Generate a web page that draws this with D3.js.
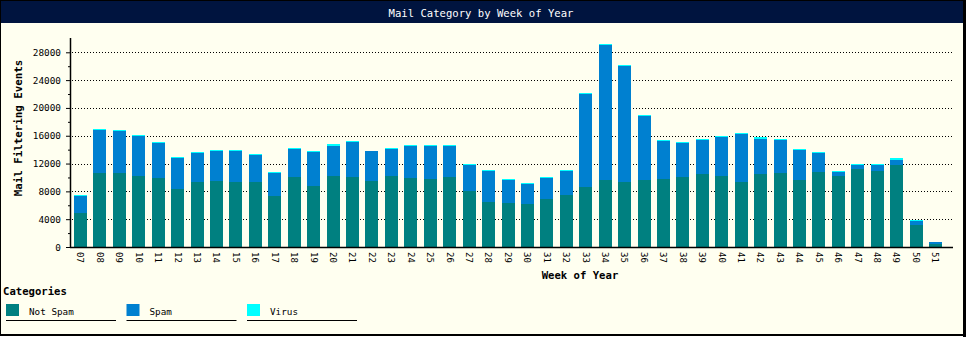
<!DOCTYPE html>
<html>
<head>
<meta charset="utf-8">
<script src="https://cdn.jsdelivr.net/npm/d3@7"></script>
<style>
  body { margin: 0; background: #ffffff; }
  svg text { font-family: 'DejaVu Sans Mono', monospace; }
</style>
</head>
<body>
<script>
// week numbers on the x axis
let weeks = ['07', '08', '09', '10', '11', '12', '13', '14', '15', '16', '17', '18', '19', '20', '21',
             '22', '23', '24', '25', '26', '27', '28', '29', '30', '31', '32', '33', '34', '35', '36',
             '37', '38', '39', '40', '41', '42', '43', '44', '45', '46', '47', '48', '49', '50', '51']

// mail counts per week, one list per category
let notSpam = [4900, 10700, 10700, 10200, 9900, 8400, 9350, 9550, 9350, 9350, 7330, 10100, 8770, 10200, 10100,
               9540, 10200, 9920, 9820, 10100, 8100, 6470, 6370, 6180, 6860, 7520, 8580, 9630, 9350, 9630,
               9820, 10110, 10500, 10200, 9350, 10500, 10690, 9630, 10790, 10250, 11220, 10930, 11790, 3160, 475]
let spam    = [2390, 6080, 5980, 5760, 5050, 4400, 4170, 4250, 4450, 3930, 3360, 3990, 4890, 4320, 5000,
               4220, 3890, 4600, 4700, 4420, 3740, 4460, 3260, 2880, 3060, 3410, 13420, 19420, 16680, 9210,
               5420, 4850, 4890, 5620, 6900, 5030, 4700, 4320, 2730, 540, 570, 860, 720, 580, 285]
let virus   = [190, 190, 150, 190, 150, 140, 140, 150, 150, 140, 140, 150, 140, 290, 140,
               40, 150, 190, 190, 190, 140, 140, 150, 140, 150, 140, 150, 140, 140, 140,
               150, 150, 140, 140, 140, 290, 140, 140, 140, 140, 190, 190, 330, 190, 20]

let categories = ['Not Spam', 'Spam', 'Virus']
let colors = ['#008080', '#0080d0', '#00ffff']
let yMajor = [0, 4000, 8000, 12000, 16000, 20000, 24000, 28000]
let yMinor = [2000, 6000, 10000, 14000, 18000, 22000, 26000]

let W = 976, H = 344
let plot = { left: 70, right: 953, top: 38, bottom: 247 }

let rows = weeks.map((w, i) => ({ week: w, 'Not Spam': notSpam[i], 'Spam': spam[i], 'Virus': virus[i] }))
let stacked = d3.stack().keys(categories)(rows)

let x = d3.scaleBand()
          .domain(weeks)
          .range([plot.left, 946])
          .paddingInner(0.331)
          .paddingOuter(0.206)

let y = d3.scaleLinear()
          .domain([0, 30000])
          .range([plot.bottom, plot.bottom - 208.6])

let color = d3.scaleOrdinal().domain(categories).range(colors)

let svg = d3.select('body')
    .append('svg')
    .attr('width', W)
    .attr('height', H)

//frame and title bar
svg.append('rect')
    .attr('x', 0.5).attr('y', 0.5)
    .attr('width', 963).attr('height', 334)
    .attr('fill', '#fffff0')
    .attr('stroke', '#000')
svg.append('rect')
    .attr('x', 963).attr('y', 0)
    .attr('width', 3).attr('height', 337)
    .attr('fill', '#000')
svg.append('rect')
    .attr('x', 0).attr('y', 334)
    .attr('width', 966).attr('height', 2)
    .attr('fill', '#000')
svg.append('rect')
    .attr('x', 1).attr('y', 1)
    .attr('width', 962).attr('height', 22)
    .attr('fill', '#00143f')
svg.append('text')
    .attr('x', 481).attr('y', 17)
    .attr('text-anchor', 'middle')
    .attr('fill', '#fff')
    .style('font-size', '10.6px')
    .text('Mail Category by Week of Year')

//dotted grid lines
svg.append('g')
    .selectAll('line')
    .data(yMajor.slice(1))
    .enter()
    .append('line')
    .attr('x1', plot.left + 2).attr('x2', plot.right)
    .attr('y1', d => Math.round(y(d)) + 0.5)
    .attr('y2', d => Math.round(y(d)) + 0.5)
    .attr('stroke', '#000')
    .attr('stroke-dasharray', '1,2')
    .attr('shape-rendering', 'crispEdges')

//stacked bars
svg.append('g')
    .selectAll('g')
    .data(stacked)
    .enter()
    .append('g')
    .attr('fill', d => color(d.key))
    .selectAll('rect')
    .data(d => d)
    .enter()
    .append('rect')
    .attr('x', d => Math.round(x(d.data.week)))
    .attr('width', Math.round(x.bandwidth()))
    .attr('y', d => y(d[1]))
    .attr('height', d => y(d[0]) - y(d[1]))
    .attr('shape-rendering', 'crispEdges')

//y axis with major and minor ticks
let yAxis = svg.append('g')
    .attr('transform', 'translate(' + plot.left + ',0)')
    .call(d3.axisLeft(y).tickValues(yMajor).tickSize(4).tickPadding(5).tickFormat(d3.format('d')))
svg.append('g')
    .attr('transform', 'translate(' + plot.left + ',0)')
    .call(d3.axisLeft(y).tickValues(yMinor).tickSize(2).tickFormat(''))
    .call(g => g.select('.domain').remove())
yAxis.select('.domain')
    .attr('d', 'M0.5,' + plot.top + 'V' + (plot.bottom + 1))
    .attr('stroke-width', 1.5)
svg.selectAll('.tick line').attr('stroke', '#000')
yAxis.selectAll('text')
    .attr('fill', '#000')
    .style('font-size', '9.4px')
    .style('font-family', "'DejaVu Sans Mono', monospace")

//x axis line and rotated week labels
svg.append('line')
    .attr('x1', plot.left).attr('x2', plot.right)
    .attr('y1', plot.bottom + 0.5).attr('y2', plot.bottom + 0.5)
    .attr('stroke', '#000')
    .attr('stroke-width', 1.5)

svg.append('g')
    .selectAll('text')
    .data(weeks)
    .enter()
    .append('text')
    .attr('transform', d => 'translate(' + (x(d) + x.bandwidth() / 2) + ',' + (plot.bottom + 5) + ') rotate(90)')
    .attr('dy', '0.35em')
    .style('font-size', '9px')
    .text(d => d)

//axis titles
svg.append('text')
    .attr('transform', 'translate(22,128) rotate(-90)')
    .attr('text-anchor', 'middle')
    .style('font-size', '10.8px')
    .style('font-weight', 'bold')
    .text('Mail Filtering Events')

svg.append('text')
    .attr('x', 580).attr('y', 279)
    .attr('text-anchor', 'middle')
    .style('font-size', '10.6px')
    .style('font-weight', 'bold')
    .text('Week of Year')

//legend
svg.append('text')
    .attr('x', 3).attr('y', 295)
    .style('font-size', '10.6px')
    .style('font-weight', 'bold')
    .text('Categories')

let legend = svg.append('g')
    .selectAll('g')
    .data(categories)
    .enter()
    .append('g')
    .attr('transform', (d, i) => 'translate(' + (6 + i * 120.5) + ',0)')

legend.append('rect')
    .attr('y', 304)
    .attr('width', 13).attr('height', 12)
    .attr('fill', d => color(d))

legend.append('text')
    .attr('x', 23).attr('y', 315)
    .style('font-size', '9.3px')
    .text(d => d)

legend.append('line')
    .attr('x1', 0).attr('x2', 110)
    .attr('y1', 320.5).attr('y2', 320.5)
    .attr('stroke', '#000')
    .attr('stroke-width', 1)
</script>
</body>
</html>
